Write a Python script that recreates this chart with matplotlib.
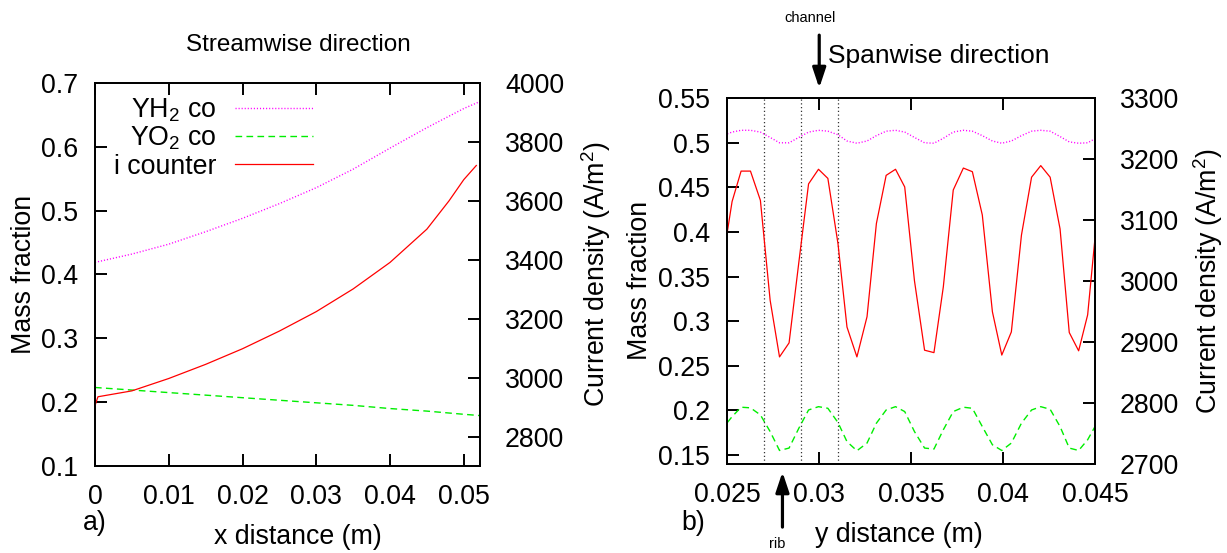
import matplotlib
matplotlib.use('Agg')
import matplotlib.pyplot as plt
from matplotlib.ticker import FixedLocator, FuncFormatter

plt.rcParams.update({
    'font.family': ['Liberation Sans', 'DejaVu Sans'],
    'mathtext.default': 'regular',
    'axes.linewidth': 1.3,
})

# ---------------- data: streamwise (panel a) ----------------
xs_frac = [0.0, 0.005, 0.01, 0.015, 0.02, 0.025, 0.03, 0.035, 0.04, 0.045, 0.05, 0.0522]
yh2_stream = [0.419, 0.432, 0.4475, 0.467, 0.488, 0.511, 0.536, 0.565, 0.598, 0.630, 0.660, 0.671]
yo2_stream = [0.223, 0.219, 0.215, 0.211, 0.207, 0.203, 0.199, 0.195, 0.190, 0.186, 0.181, 0.179]
xs_cur = [0.0, 0.0004, 0.005, 0.01, 0.015, 0.02, 0.025, 0.03, 0.035, 0.04, 0.045, 0.048, 0.05, 0.0517]
i_stream = [2905, 2935, 2955, 2997, 3045, 3098, 3158, 3224, 3301, 3391, 3504, 3600, 3672, 3720]

# ---------------- data: spanwise (panel b) ----------------
ys = [0.02500, 0.02526, 0.02575, 0.02626, 0.02680, 0.02733, 0.02784, 0.02836, 0.02889, 0.02942,
      0.02996, 0.03047, 0.03102, 0.03151, 0.03205, 0.03260, 0.03311, 0.03364, 0.03415, 0.03465,
      0.03518, 0.03573, 0.03624, 0.03675, 0.03729, 0.03784, 0.03833, 0.03887, 0.03942, 0.03993,
      0.04045, 0.04100, 0.04155, 0.04205, 0.04256, 0.04310, 0.04360, 0.04411, 0.04460, 0.04500]
i_span = [3080, 3130, 3180, 3180, 3132, 2968, 2875, 2898, 3030, 3159,
          3183, 3168, 3061, 2924, 2875, 2941, 3094, 3173, 3183, 3154,
          3000, 2886, 2882, 2990, 3149, 3185, 3179, 3108, 2949, 2878,
          2916, 3075, 3170, 3189, 3170, 3085, 2915, 2885, 2944, 3070]
yo2_span = [0.1864, 0.193, 0.2036, 0.2029, 0.195, 0.1763, 0.1551, 0.1578, 0.180, 0.2005,
            0.2042, 0.2024, 0.1864, 0.165, 0.1548, 0.1634, 0.1857, 0.2005, 0.2042, 0.1987,
            0.1763, 0.1578, 0.1567, 0.1783, 0.1987, 0.2036, 0.2024, 0.1819, 0.1615, 0.1551,
            0.1634, 0.1857, 0.2005, 0.2042, 0.2013, 0.1819, 0.1578, 0.1551, 0.1671, 0.1819]
yh2_span = [0.510, 0.512, 0.514, 0.514, 0.512, 0.506, 0.500, 0.500, 0.506, 0.512,
            0.514, 0.513, 0.509, 0.502, 0.4995, 0.502, 0.508, 0.513, 0.514, 0.512,
            0.506, 0.500, 0.4995, 0.505, 0.512, 0.514, 0.513, 0.508, 0.502, 0.4995,
            0.502, 0.508, 0.513, 0.514, 0.513, 0.507, 0.501, 0.4995, 0.500, 0.5045]
rib_lines = [0.027, 0.029, 0.031]
channel_x = 0.030
rib_x = 0.028

# tick values
xt_a = [0, 0.01, 0.02, 0.03, 0.04, 0.05]
yt_a = [0.1, 0.2, 0.3, 0.4, 0.5, 0.6, 0.7]
y2t_a = [2800, 3000, 3200, 3400, 3600, 3800, 4000]
xt_b = [0.025, 0.03, 0.035, 0.04, 0.045]
yt_b = [0.15, 0.2, 0.25, 0.3, 0.35, 0.4, 0.45, 0.5, 0.55]
y2t_b = [2700, 2800, 2900, 3000, 3100, 3200, 3300]

labels = ['YH$_2$ co', 'YO$_2$ co', 'i counter']

FS = 19.3
MAG = '#ff00ff'
GRN = '#00ee00'
RED = '#ff0000'
fmt = FuncFormatter(lambda v, p: '%g' % v)

fig = plt.figure(figsize=(12.27, 5.53), dpi=100)
axa = fig.add_axes([95 / 1227, 1 - 466 / 553, 385 / 1227, 383 / 553])
axb = fig.add_axes([727.3 / 1227, 1 - 463.5 / 553, 367.7 / 1227, 365.5 / 553])


def style(ax, ax2, xt, yt, y2t):
    ax.xaxis.set_major_locator(FixedLocator(xt))
    ax.yaxis.set_major_locator(FixedLocator(yt))
    ax2.yaxis.set_major_locator(FixedLocator(y2t))
    for a in (ax.xaxis, ax.yaxis, ax2.yaxis):
        a.set_major_formatter(fmt)
    ax.tick_params(axis='both', which='both', direction='in', length=8.4, width=1.4,
                   labelsize=FS, top=True, right=False)
    ax.tick_params(axis='y', pad=12.5)
    ax.tick_params(axis='x', pad=13)
    ax2.tick_params(axis='y', direction='in', length=8.4, width=1.4, labelsize=FS, pad=18)
    for s in list(ax.spines.values()) + list(ax2.spines.values()):
        s.set_linewidth(1.3)


# ---------------- panel a ----------------
axa2 = axa.twinx()
l1, = axa.plot(xs_frac, yh2_stream, color=MAG, lw=1.0, ls=(0, (0.8, 1.4)))
l2, = axa.plot(xs_frac, yo2_stream, color=GRN, lw=1.0, ls=(0, (4.8, 3.1)))
l3, = axa2.plot(xs_cur, i_stream, color=RED, lw=0.9)
axa.set_xlim(0, 0.0522)
axa.set_ylim(0.1, 0.7)
axa2.set_ylim(2700, 4000)
style(axa, axa2, xt_a, yt_a, y2t_a)

axa.set_ylabel('Mass fraction', fontsize=FS, va='center')
axa.yaxis.set_label_coords(-0.1836, 0.5)
axa2.set_ylabel('Current density (A/m$^2$)', fontsize=FS, va='center', rotation=90)
axa2.yaxis.set_label_coords(1.3005, 0.5)
axa.set_xlabel('x distance (m)', fontsize=FS, va='baseline')
axa.xaxis.set_label_coords(0.527, -0.2037)
axa.text(0.527, 1.0836, 'Streamwise direction', transform=axa.transAxes,
         ha='center', va='baseline', fontsize=17.5)
axa.text(-0.031, -0.167, 'a)', transform=axa.transAxes, ha='left', va='baseline', fontsize=FS)

leg = axa2.legend([l1, l2, l3], labels, loc='upper right', bbox_to_anchor=(0.566, 0.966),
                  frameon=False, markerfirst=False, fontsize=FS, handlelength=2.9,
                  handletextpad=0.7, labelspacing=0.05, borderpad=0, borderaxespad=0)

# ---------------- panel b ----------------
axb2 = axb.twinx()
for xv in rib_lines:
    axb.axvline(xv, color='#333333', lw=0.9, ls=(0, (1, 2)))
axb.plot(ys, yh2_span, color=MAG, lw=1.0, ls=(0, (0.8, 1.4)))
axb.plot(ys, yo2_span, color=GRN, lw=1.0, ls=(0, (4.8, 3.1)))
axb2.plot(ys, i_span, color=RED, lw=0.9)
axb.set_xlim(0.025, 0.045)
axb.set_ylim(0.1405, 0.5502)
axb2.set_ylim(2700, 3300)
style(axb, axb2, xt_b, yt_b, y2t_b)

axb.set_ylabel('Mass fraction', fontsize=FS, va='center')
axb.yaxis.set_label_coords(-0.2366, 0.5)
axb2.set_ylabel('Current density (A/m$^2$)', fontsize=FS, va='center', rotation=90)
axb2.yaxis.set_label_coords(1.308, 0.5)
axb.set_xlabel('y distance (m)', fontsize=FS, va='baseline')
axb.xaxis.set_label_coords(0.4664, -0.2148)
axb.text(-0.126, -0.182, 'b)', transform=axb.transAxes, ha='left', va='baseline', fontsize=FS)

tr = axb.get_xaxis_transform()
arrow_kw = dict(arrowstyle='-|>,head_length=0.6,head_width=0.2', color='black', lw=2.3,
                shrinkA=0, shrinkB=0, mutation_scale=20)
axb.annotate('', xy=(channel_x, 1.0274), xytext=(channel_x, 1.172), xycoords=tr,
             textcoords=tr, arrowprops=arrow_kw, annotation_clip=False)
axb.annotate('', xy=(rib_x, -0.0233), xytext=(rib_x, -0.174), xycoords=tr,
             textcoords=tr, arrowprops=arrow_kw, annotation_clip=False)
axb.text(0.02951, 1.2088, 'channel', transform=tr, ha='center', va='baseline', fontsize=10.5)
axb.text(0.02769, -0.232, 'rib', transform=tr, ha='center', va='baseline', fontsize=10.5)
axb.text(0.03049, 1.0949, 'Spanwise direction', transform=tr, ha='left', va='baseline', fontsize=19)

fig.savefig('out.png', dpi=100)
